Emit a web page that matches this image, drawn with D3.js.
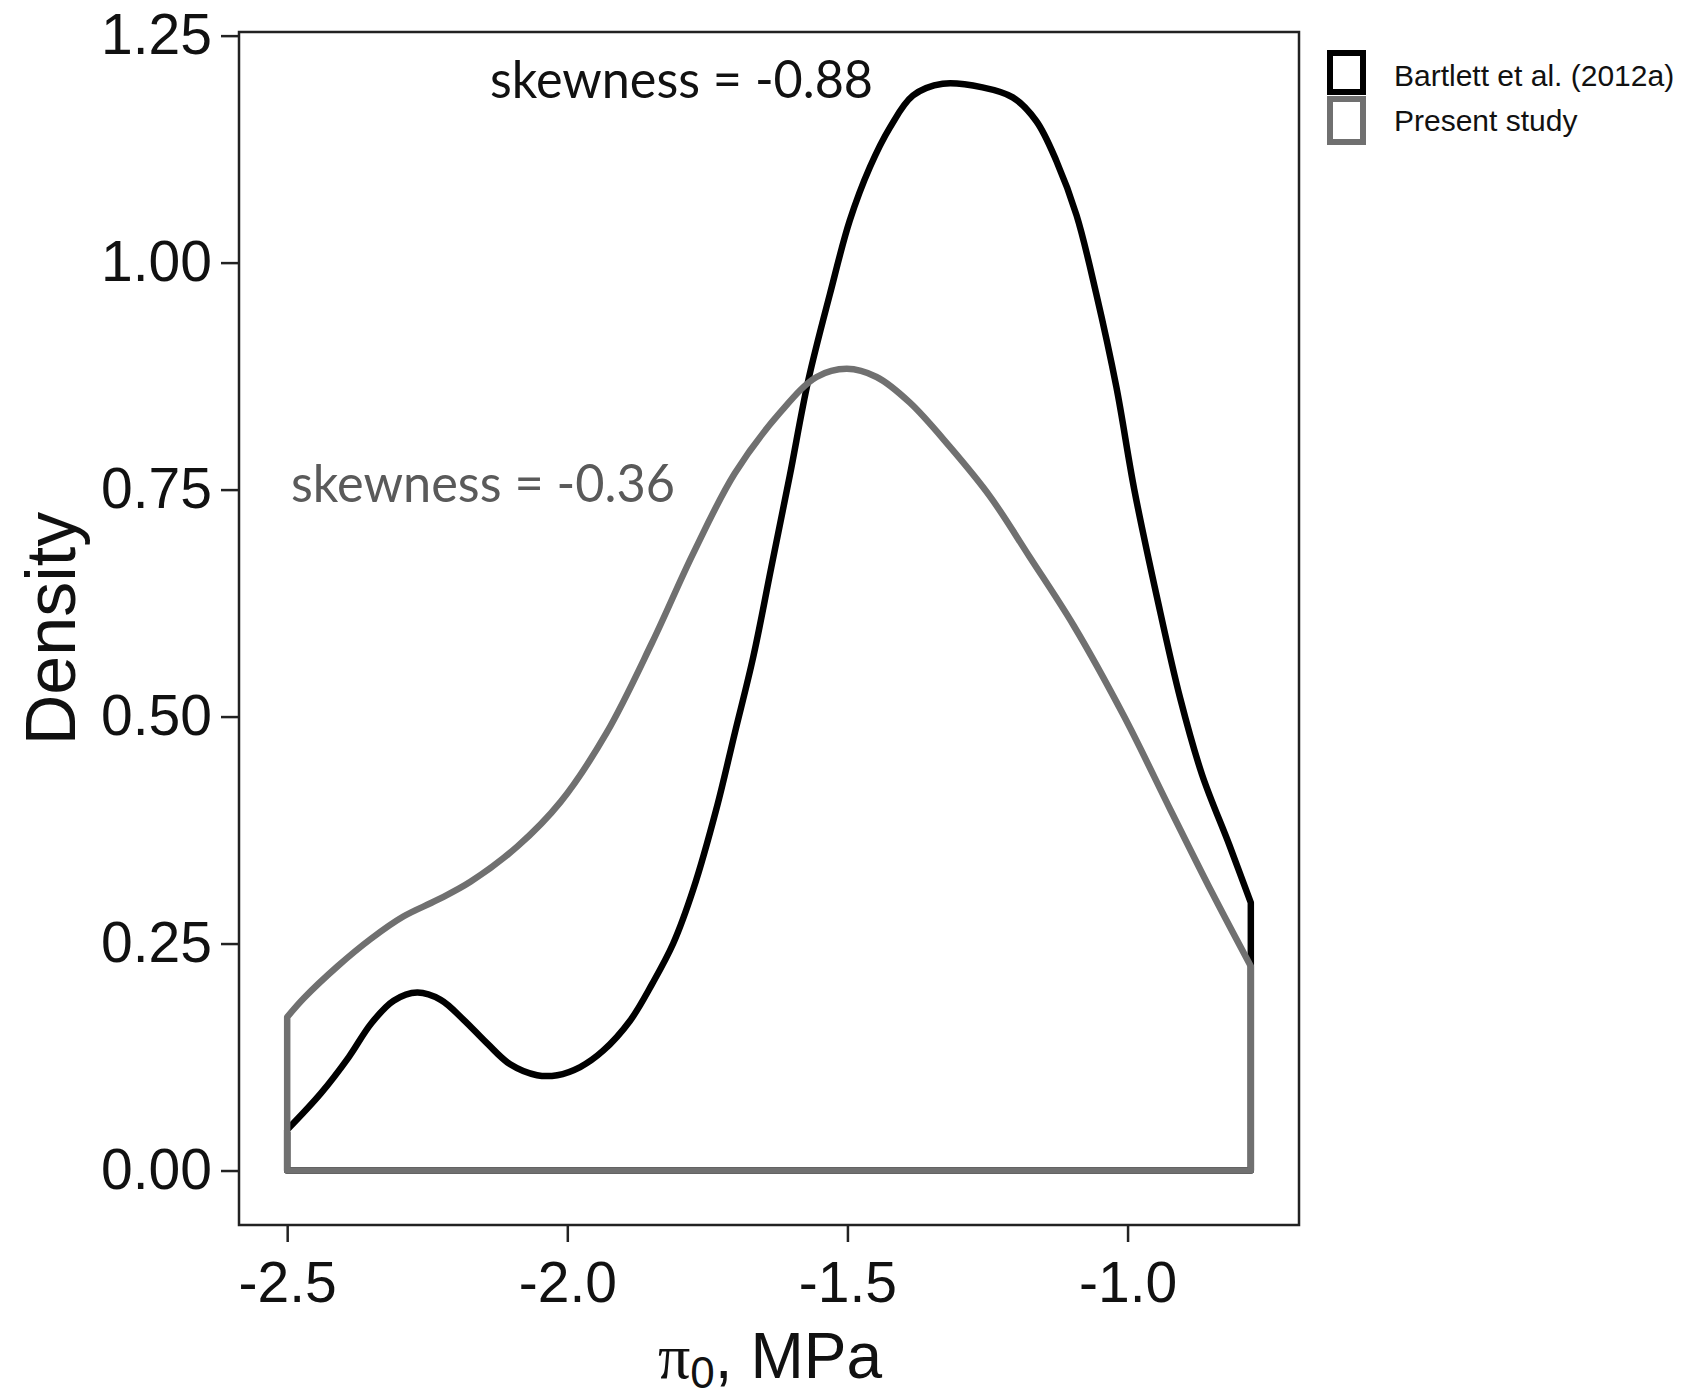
<!DOCTYPE html>
<html>
<head>
<meta charset="utf-8">
<script src="https://cdn.jsdelivr.net/npm/d3@7"></script>
<style>
  body { margin: 0; background: #fff; }
  svg { display: block; }
</style>
</head>
<body>
<div id="chart"></div>
<script>
// density curves (x in MPa, y = density)
const bartlettX = [-2.50, -2.44, -2.39, -2.35, -2.31, -2.268, -2.226, -2.185, -2.143, -2.102, -2.054, -2.018,
  -1.977, -1.936, -1.888, -1.849, -1.811, -1.775, -1.734, -1.701, -1.668, -1.636, -1.603, -1.570, -1.531,
  -1.496, -1.460, -1.424, -1.383, -1.330, -1.259, -1.205, -1.163, -1.127, -1.091, -1.056, -1.020, -0.988,
  -0.947, -0.906, -0.867, -0.818, -0.780];
const bartlettY = [0.045, 0.085, 0.125, 0.162, 0.187, 0.196, 0.188, 0.166, 0.140, 0.117, 0.105, 0.105,
  0.114, 0.132, 0.165, 0.205, 0.250, 0.310, 0.398, 0.482, 0.566, 0.664, 0.765, 0.870, 0.966,
  1.046, 1.105, 1.149, 1.184, 1.197, 1.193, 1.182, 1.156, 1.112, 1.052, 0.966, 0.863, 0.750,
  0.630, 0.520, 0.436, 0.358, 0.295];

const presentX = [-2.50, -2.47, -2.41, -2.351, -2.292, -2.232, -2.173, -2.089, -2.012, -1.930, -1.849,
  -1.775, -1.701, -1.620, -1.555, -1.501, -1.448, -1.389, -1.317, -1.245, -1.175, -1.096, -1.006,
  -0.924, -0.850, -0.780];
const presentY = [0.169, 0.190, 0.225, 0.255, 0.280, 0.298, 0.318, 0.357, 0.406, 0.482, 0.581,
  0.680, 0.768, 0.835, 0.874, 0.883, 0.874, 0.846, 0.797, 0.742, 0.676, 0.600, 0.500,
  0.398, 0.307, 0.225];

const xTicks = [-2.5, -2.0, -1.5, -1.0];
const yTicks = [0, 0.25, 0.5, 0.75, 1.0, 1.25];
const legendLabels = ["Bartlett et al. (2012a)", "Present study"];
const skewLabels = ["skewness = -0.88", "skewness = -0.36"];

const W = 1689, H = 1399;
const panel = { left: 239, right: 1299, top: 32, bottom: 1225 };
const colors = ["#000000", "#707070"];

const svg = d3.select("#chart").append("svg")
  .attr("width", W)
  .attr("height", H);

const x = d3.scaleLinear().domain([-2.586, -0.694]).range([panel.left, panel.right]);
const y = d3.scaleLinear().domain([-0.06, 1.254]).range([panel.bottom, panel.top]);

// axes
const yAxis = svg.append("g")
  .attr("transform", "translate(" + panel.left + ",0)")
  .call(d3.axisLeft(y).tickValues(yTicks).tickSize(18).tickPadding(9).tickFormat(d => d.toFixed(2)));

const xAxis = svg.append("g")
  .attr("transform", "translate(0," + panel.bottom + ")")
  .call(d3.axisBottom(x).tickValues(xTicks).tickSize(17).tickPadding(20).tickFormat(d => d.toFixed(1)));

[xAxis, yAxis].forEach(function(ax) {
  ax.select(".domain").remove();
  ax.selectAll(".tick line").attr("stroke", "#222").attr("stroke-width", 2.5);
  ax.selectAll(".tick text")
    .attr("fill", "#111")
    .style("font-family", "'Liberation Sans', Arial, sans-serif")
    .style("font-size", "57px");
});

// panel border
svg.append("rect")
  .attr("x", panel.left)
  .attr("y", panel.top)
  .attr("width", panel.right - panel.left)
  .attr("height", panel.bottom - panel.top)
  .attr("fill", "none")
  .attr("stroke", "#222")
  .attr("stroke-width", 2.5);

// density outlines, grey drawn last like the original
const area = d3.area()
  .x(d => x(d[0]))
  .y0(y(0))
  .y1(d => y(d[1]))
  .curve(d3.curveCatmullRom.alpha(0.5));

const series = [
  d3.zip(bartlettX, bartlettY),
  d3.zip(presentX, presentY)
];

svg.append("g").selectAll("path")
  .data(series)
  .enter()
  .append("path")
  .attr("d", area)
  .attr("fill", "none")
  .attr("stroke", (d, i) => colors[i])
  .attr("stroke-width", 6.5)
  .attr("stroke-linejoin", "round");

// skewness notes
const noteFont = "Lato, 'Open Sans', sans-serif";
svg.append("text")
  .attr("x", 490).attr("y", 98)
  .attr("textLength", 383).attr("lengthAdjust", "spacingAndGlyphs")
  .attr("fill", "#111")
  .style("font-family", noteFont).style("font-size", "52px")
  .text(skewLabels[0]);

svg.append("text")
  .attr("x", 291).attr("y", 502)
  .attr("textLength", 384).attr("lengthAdjust", "spacingAndGlyphs")
  .attr("fill", "#5a5a5a")
  .style("font-family", noteFont).style("font-size", "52px")
  .text(skewLabels[1]);

// axis titles
svg.append("text")
  .attr("transform", "translate(75," + ((panel.top + panel.bottom) / 2) + ") rotate(-90)")
  .attr("text-anchor", "middle")
  .attr("fill", "#111")
  .style("font-family", "'Liberation Sans', Arial, sans-serif")
  .style("font-size", "70px")
  .text("Density");

const xTitle = svg.append("text")
  .attr("x", 770).attr("y", 1378)
  .attr("text-anchor", "middle")
  .attr("fill", "#111")
  .style("font-family", "'Liberation Sans', Arial, sans-serif")
  .style("font-size", "64px");
xTitle.append("tspan").style("font-family", "'Liberation Serif', serif").text("π");
xTitle.append("tspan").attr("dy", 10).style("font-size", "44px").text("0");
xTitle.append("tspan").attr("dy", -10).text(", MPa");

// legend
const legend = svg.append("g");
const keyY = [53, 99], keyH = [39, 43];
legendLabels.forEach(function(label, i) {
  legend.append("rect")
    .attr("x", 1330).attr("y", keyY[i])
    .attr("width", 33).attr("height", keyH[i])
    .attr("fill", "#fff")
    .attr("stroke", colors[i])
    .attr("stroke-width", 6);
  legend.append("text")
    .attr("x", 1394).attr("y", [86, 131][i])
    .attr("fill", "#111")
    .style("font-family", "'Liberation Sans', Arial, sans-serif")
    .style("font-size", "30px")
    .text(label);
});
</script>
</body>
</html>
